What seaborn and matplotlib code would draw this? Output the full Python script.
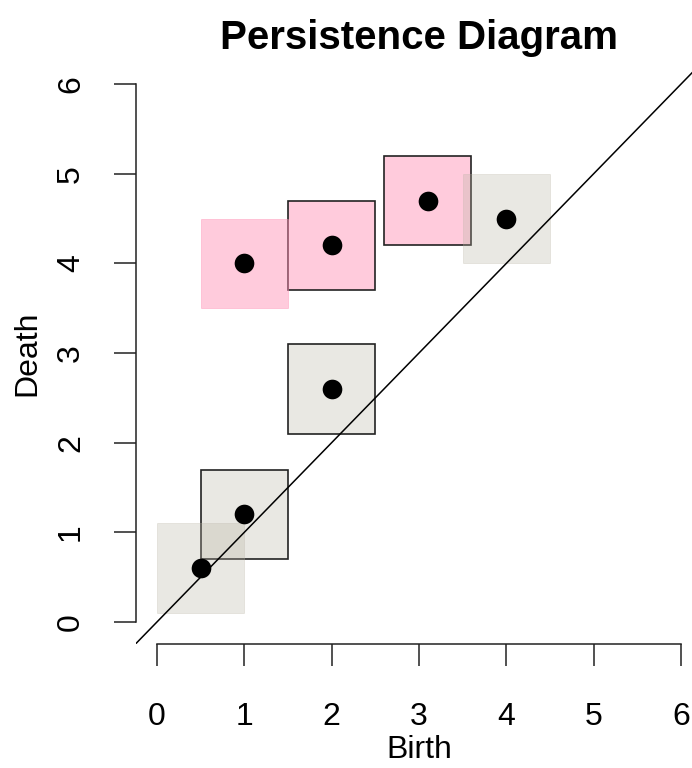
import matplotlib
matplotlib.use("Agg")
import matplotlib.pyplot as plt
import seaborn as sns
import pandas as pd
import numpy as np

# persistence pairs
birth = [0.5, 1.0, 2.0, 1.0, 2.0, 3.1, 4.0]
death = [0.6, 1.2, 2.6, 4.0, 4.2, 4.7, 4.5]
dim = ["grey", "grey", "grey", "pink", "pink", "pink", "grey"]
outlined = [False, True, True, False, True, True, False]
box_size = 1.0
ticks = [0, 1, 2, 3, 4, 5, 6]

sns.set_style("ticks")
plt.rcParams['font.family'] = ['Liberation Sans', 'DejaVu Sans']
plt.rcParams['text.color'] = 'black'
plt.rcParams['axes.labelcolor'] = 'black'
plt.rcParams['xtick.color'] = 'black'
plt.rcParams['ytick.color'] = 'black'

df = pd.DataFrame({"Birth": birth, "Death": death, "dim": dim, "outlined": outlined})

fills = {"grey": (0.72, 0.70, 0.64, 0.30), "pink": (1.0, 0.55, 0.70, 0.45)}

fig = plt.figure(figsize=(6.92, 7.68), dpi=100)
ax = fig.add_axes([0.1965, 0.1621, 0.818, 0.7565])

# outlined boxes first, plain boxes on top (translucent)
for flag in [True, False]:
    sub = df[df["outlined"] == flag]
    for _, r in sub.iterrows():
        ax.bar(r["Birth"], box_size, width=box_size, bottom=r["Death"] - box_size / 2,
               color=fills[r["dim"]],
               edgecolor="#222222" if flag else fills[r["dim"]],
               linewidth=1.2 if flag else 0.6, zorder=2)

lim = (-0.24, 6.24)
ax.plot(lim, lim, color="black", linewidth=1.1, zorder=3)

sns.scatterplot(data=df, x="Birth", y="Death", color="black", s=200,
                edgecolor="black", linewidth=0, ax=ax, zorder=4, legend=False)

ax.set_xlim(lim)
ax.set_ylim(lim)
ax.set_xticks(ticks)
ax.set_yticks(ticks)
ax.set_xticklabels([str(t) for t in ticks])
ax.set_yticklabels([str(t) for t in ticks], rotation=90, va="center")
ax.tick_params(axis="both", length=16, width=1.1, labelsize=23, color="#222222")
ax.tick_params(axis="x", pad=26)
ax.tick_params(axis="y", pad=20)

sns.despine(ax=ax)
for s in ["left", "bottom"]:
    ax.spines[s].set_bounds(0, 6)
    ax.spines[s].set_linewidth(1.1)
    ax.spines[s].set_color("#222222")

ax.set_xlabel("Birth", fontsize=23, labelpad=2)
ax.set_ylabel("Death", fontsize=23, labelpad=10)
fig.text(0.6055, 0.95, "Persistence Diagram", fontsize=29, fontweight="bold",
         ha="center", va="center")

fig.savefig("out.png", dpi=100)
